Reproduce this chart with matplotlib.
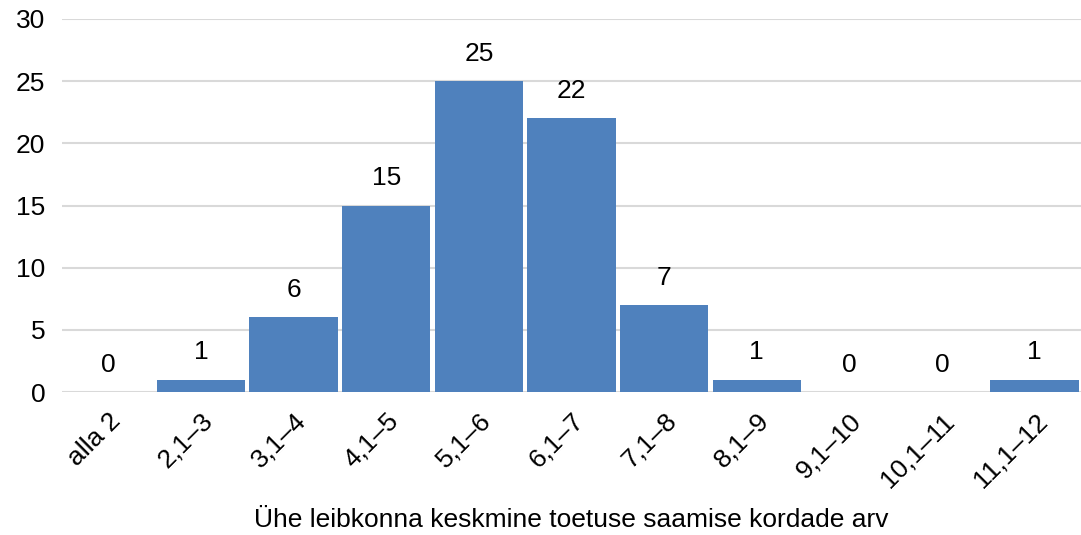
import matplotlib
matplotlib.use("Agg")
import matplotlib.pyplot as plt

categories = ["alla 2", "2,1–3", "3,1–4", "4,1–5", "5,1–6", "6,1–7", "7,1–8",
              "8,1–9", "9,1–10", "10,1–11", "11,1–12"]
values = [0, 1, 6, 15, 25, 22, 7, 1, 0, 0, 1]
yticks = [0, 5, 10, 15, 20, 25, 30]
xlabel = "Ühe leibkonna keskmine toetuse saamise kordade arv"

plt.rcParams['font.family'] = ['Liberation Sans', 'DejaVu Sans']
FS = 19

fig = plt.figure(figsize=(10.81, 5.35), dpi=100)
ax = fig.add_axes([62/1081, 1-392/535, 1-62/1081, (392-19)/535])

x = list(range(len(categories)))
bars = ax.bar(x, values, width=0.955, color='#4F81BD', zorder=3)
ax.set_xlim(-0.5, len(categories)-0.5)
ax.set_ylim(0, 30)
ax.set_yticks(yticks)
ax.set_yticklabels([str(t) for t in yticks], fontsize=FS)
ax.yaxis.grid(True, color='#D9D9D9', linewidth=1.5, zorder=0)
ax.set_axisbelow(True)
for s in ax.spines.values():
    s.set_visible(False)
ax.tick_params(axis='both', length=0)
ax.tick_params(axis='y', pad=12)
ax.set_xticks(x)
ax.set_xticklabels(categories, rotation=45, ha='right', va='top',
                   rotation_mode='anchor', fontsize=FS)
ax.tick_params(axis='x', pad=12)
for xi, v in zip(x, values):
    ax.annotate(str(v), (xi, v), xytext=(0, 11), textcoords='offset points',
                ha='center', va='bottom', fontsize=FS)
ax.set_xlabel(xlabel, fontsize=FS, labelpad=12)
fig.savefig("out.png", dpi=100)
